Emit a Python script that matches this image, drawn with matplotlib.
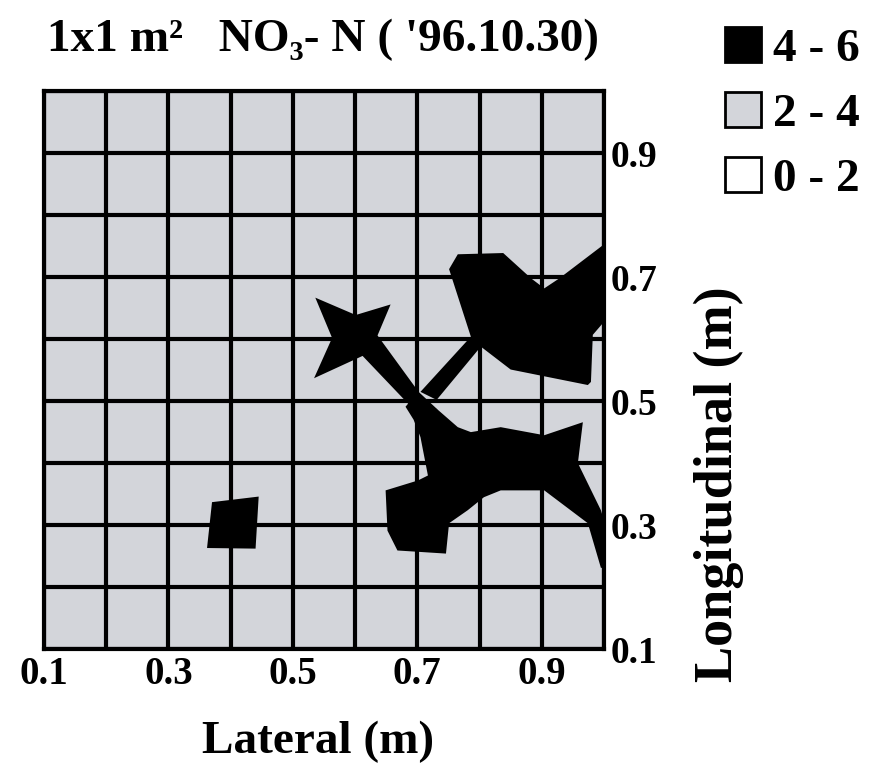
import matplotlib.pyplot as plt
from matplotlib.patches import Patch

# sampling grid (m)
grid_pos = [0.1, 0.2, 0.3, 0.4, 0.5, 0.6, 0.7, 0.8, 0.9, 1.0]
tick_pos = [0.1, 0.3, 0.5, 0.7, 0.9]
tick_labels = ['0.1', '0.3', '0.5', '0.7', '0.9']

classes = ['4 - 6', '2 - 4', '0 - 2']
class_colors = ['#000000', '#d3d5da', '#ffffff']

# outlines of the 4-6 zone (lateral, longitudinal in m)
star_x = [0.536, 0.601, 0.657, 0.636, 0.702, 0.733, 0.686, 0.612, 0.534, 0.563]
star_y = [0.667, 0.639, 0.656, 0.606, 0.515, 0.486, 0.495, 0.573, 0.537, 0.602]

blob_x = [0.765, 0.838, 0.883, 0.904, 0.928, 1.000, 1.000, 0.982, 0.979, 0.974,
          0.850, 0.802, 0.731, 0.705, 0.786, 0.751]
blob_y = [0.737, 0.739, 0.698, 0.682, 0.698, 0.753, 0.628, 0.607, 0.531, 0.526,
          0.551, 0.588, 0.502, 0.515, 0.604, 0.713]

body_x = [0.681, 0.697, 0.733, 0.765, 0.786, 0.834, 0.904, 0.966, 0.958, 0.995,
          1.000, 1.000, 0.995, 0.974, 0.904, 0.834, 0.807, 0.781, 0.751, 0.746,
          0.668, 0.652, 0.649, 0.701, 0.717, 0.705, 0.694]
body_y = [0.491, 0.510, 0.486, 0.458, 0.450, 0.458, 0.445, 0.466, 0.400, 0.324,
          0.307, 0.231, 0.231, 0.303, 0.356, 0.356, 0.345, 0.324, 0.303, 0.254,
          0.259, 0.291, 0.356, 0.372, 0.380, 0.442, 0.470]

spot_x = [0.370, 0.445, 0.440, 0.362]
spot_y = [0.337, 0.346, 0.262, 0.263]

plt.rcParams['font.family'] = ['Liberation Serif', 'DejaVu Serif']
plt.rcParams['font.weight'] = 'bold'

fig = plt.figure(figsize=(8.75, 7.64), dpi=100)
ax = fig.add_axes([0.0503, 0.1505, 0.640, 0.730])

# whole field falls in the 2-4 class, then the 4-6 zones on top
ax.set_facecolor(class_colors[1])
for xs, ys in [(star_x, star_y), (blob_x, blob_y), (body_x, body_y), (spot_x, spot_y)]:
    ax.fill(xs, ys, color=class_colors[0], lw=0, zorder=2)

ax.vlines(grid_pos, 0.1, 1.0, color='black', lw=3, zorder=3)
ax.hlines(grid_pos, 0.1, 1.0, color='black', lw=3, zorder=3)

ax.set_xlim(0.1, 1.0)
ax.set_ylim(0.1, 1.0)
for s in ax.spines.values():
    s.set_linewidth(3)

ax.set_xticks(tick_pos)
ax.set_xticklabels(tick_labels, fontsize=28, fontweight='bold')
ax.yaxis.tick_right()
ax.set_yticks(tick_pos)
ax.set_yticklabels(tick_labels, fontsize=27, fontweight='bold')
ax.tick_params(axis='x', length=0, pad=5)
ax.tick_params(axis='y', length=0, pad=5)

fig.text(0.364, 0.014, 'Lateral (m)', fontsize=34, fontweight='bold',
         ha='center', va='baseline')
fig.text(0.821, 0.366, 'Longitudinal (m)', fontsize=39, fontweight='bold',
         rotation=90, ha='center', va='center')

fig.text(0.054, 0.948, "1x1 m\u00b2   NO\u2083- N ( '96.10.30)", fontsize=34,
         fontweight='bold', ha='left', va='center')

handles = [Patch(facecolor=c, edgecolor='black', lw=2) for c in class_colors]
fig.legend(handles, classes, loc='upper left', bbox_to_anchor=(0.829, 0.965),
           frameon=False, handlelength=0.76, handleheight=0.76,
           handletextpad=0.25, labelspacing=0.45, borderpad=0, borderaxespad=0,
           prop={'weight': 'bold', 'size': 34})

fig.savefig('out.png', dpi=100)
